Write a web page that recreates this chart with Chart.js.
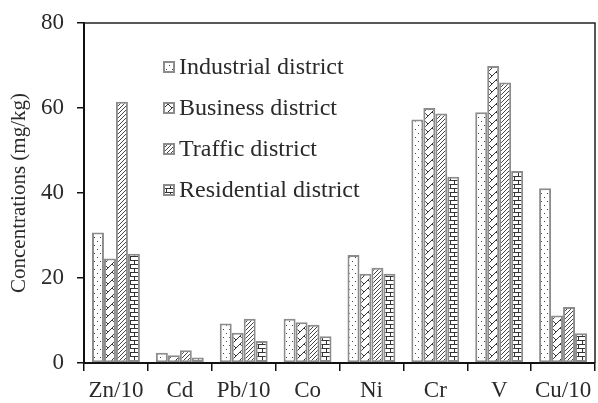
<!DOCTYPE html>
<html>
<head>
<meta charset="utf-8">
<script src="https://cdn.jsdelivr.net/npm/chart.js@4/dist/chart.umd.min.js"></script>
<style>
  body { margin: 0; background: #fff; }
  #wrap { width: 598px; height: 403px; }
</style>
</head>
<body>
<div id="wrap"><canvas id="myChart" width="598" height="403"></canvas></div>
<script>
// data
const categories = ['Zn/10', 'Cd', 'Pb/10', 'Co', 'Ni', 'Cr', 'V', 'Cu/10'];
const seriesNames = ['Industrial district', 'Business district', 'Traffic district', 'Residential district'];
const industrial = [30.7, 2.4, 9.3, 10.4, 25.4, 57.3, 59.0, 41.1];
const business = [24.6, 1.8, 7.1, 9.6, 21.0, 60.0, 69.9, 11.2];
const traffic = [61.5, 3.0, 10.4, 9.0, 22.4, 58.7, 66.0, 13.2];
const residential = [25.7, 1.3, 5.2, 6.3, 21.0, 43.8, 45.2, 7.0];
const yMin = 0;
const yMax = 80;
const yStep = 20;

const FONT = "'Liberation Serif', 'Times New Roman', serif";
const INK = '#2a2a2a';
const EDGE = '#8c8c8c';

function makePattern(kind) {
    let c = document.createElement('canvas');
    let g = c.getContext('2d');
    if (kind === 'dots') {
        c.width = 6; c.height = 8;
        g.fillStyle = '#fff'; g.fillRect(0, 0, 6, 8);
        g.fillStyle = '#444';
        g.fillRect(1, 1, 1, 1);
        g.fillRect(4, 5, 1, 1);
    } else if (kind === 'zigzag') {
        c.width = 8; c.height = 8;
        g.fillStyle = '#fff'; g.fillRect(0, 0, 8, 8);
        g.strokeStyle = '#333'; g.lineWidth = 1;
        g.beginPath();
        g.moveTo(0, 8); g.lineTo(8, 0);
        g.moveTo(0, 0); g.lineTo(4, 4);
        g.stroke();
    } else if (kind === 'hatch') {
        c.width = 4; c.height = 4;
        g.fillStyle = '#fff'; g.fillRect(0, 0, 4, 4);
        g.strokeStyle = '#444'; g.lineWidth = 1;
        g.beginPath();
        g.moveTo(-1, 5); g.lineTo(5, -1);
        g.moveTo(-1, 1); g.lineTo(1, -1);
        g.moveTo(3, 5); g.lineTo(5, 3);
        g.stroke();
    } else {
        c.width = 8; c.height = 8;
        g.fillStyle = '#fff'; g.fillRect(0, 0, 8, 8);
        g.fillStyle = '#333';
        g.fillRect(0, 0, 8, 1);
        g.fillRect(0, 4, 8, 1);
        g.fillRect(2, 0, 1, 4);
        g.fillRect(6, 4, 1, 4);
    }
    return document.createElement('canvas').getContext('2d').createPattern(c, 'repeat');
}

const patterns = [makePattern('dots'), makePattern('zigzag'), makePattern('hatch'), makePattern('brick')];
const seriesValues = [industrial, business, traffic, residential];

// frame on top and right + legend inside the plot
const extras = {
    id: 'extras',
    afterDraw(chart) {
        let ctx = chart.ctx;
        let a = chart.chartArea;
        ctx.save();
        ctx.strokeStyle = '#222';
        ctx.lineWidth = 1.5;
        ctx.beginPath();
        ctx.moveTo(a.left, a.top);
        ctx.lineTo(a.right, a.top);
        ctx.lineTo(a.right, a.bottom);
        ctx.stroke();

        ctx.font = '24px ' + FONT;
        ctx.textBaseline = 'middle';
        chart.data.datasets.forEach((ds, i) => {
            let y = 67 + i * 41;
            ctx.fillStyle = ds.backgroundColor;
            ctx.fillRect(164, y - 5, 10, 10);
            ctx.strokeStyle = EDGE;
            ctx.lineWidth = 2;
            ctx.strokeRect(164, y - 5, 10, 10);
            ctx.fillStyle = INK;
            ctx.fillText(ds.label, 179, y + 1);
        });
        ctx.restore();
    }
};

new Chart(document.querySelector('#myChart').getContext('2d'), {
    type: 'bar',
    data: {
        labels: categories,
        datasets: seriesNames.map((name, i) => ({
            label: name,
            data: seriesValues[i],
            backgroundColor: patterns[i],
            borderColor: EDGE,
            borderWidth: 2,
            borderSkipped: false,
            barPercentage: 1,
            categoryPercentage: 0.75
        }))
    },
    options: {
        responsive: false,
        animation: false,
        layout: { padding: { top: 23, right: 3, left: 0, bottom: 0 } },
        plugins: {
            legend: { display: false },
            tooltip: { enabled: false }
        },
        scales: {
            x: {
                afterFit: (s) => { s.height = 40; s.paddingLeft = 0; s.paddingRight = 0; },
                grid: { offset: true, drawOnChartArea: false, tickLength: 8, color: '#111', lineWidth: 1.5 },
                border: { display: true, color: '#111', width: 2 },
                ticks: { color: INK, font: { family: FONT, size: 23 }, padding: 6, maxRotation: 0 }
            },
            y: {
                min: yMin,
                max: yMax,
                afterFit: (s) => { s.width = 84; s.paddingTop = 0; s.paddingBottom = 0; },
                grid: { drawOnChartArea: false, tickLength: 7, color: '#111', lineWidth: 1.5 },
                border: { display: true, color: '#111', width: 2 },
                ticks: { stepSize: yStep, color: INK, font: { family: FONT, size: 23 }, padding: 13 },
                title: {
                    display: true,
                    text: 'Concentrations (mg/kg)',
                    color: INK,
                    font: { family: FONT, size: 21 },
                    padding: { top: 7, bottom: 0 }
                }
            }
        }
    },
    plugins: [extras]
});
</script>
</body>
</html>
